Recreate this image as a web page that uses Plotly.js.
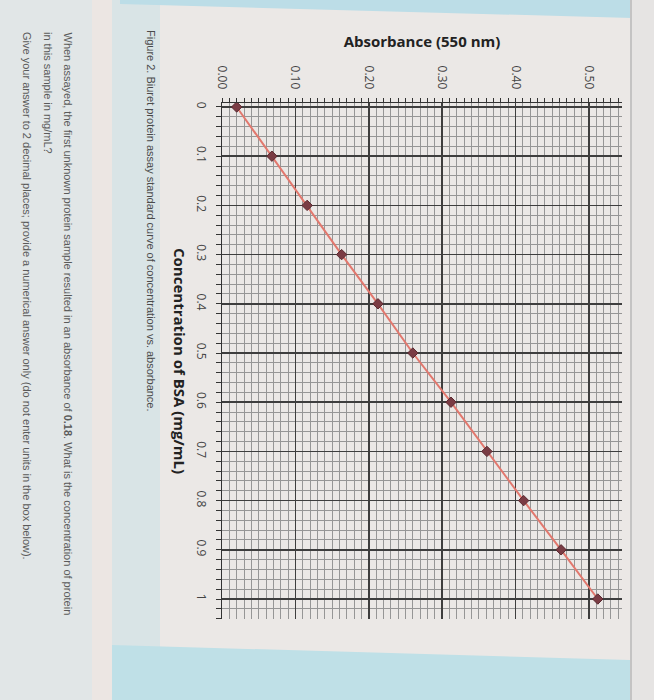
<!DOCTYPE html>
<html>
<head>
<meta charset="utf-8">
<script src="https://cdn.plot.ly/plotly-3.0.1.min.js"></script>
<style>
  html, body { margin: 0; padding: 0; background: #ebe8e6; }
  #chart { width: 654px; height: 700px; }
</style>
</head>
<body>
<div id="chart"></div>
<script>
// ---- data ----
const concentration = [0, 0.1, 0.2, 0.3, 0.4, 0.5, 0.6, 0.7, 0.8, 0.9, 1.0];          // mg/mL
const absorbance    = [0.020, 0.068, 0.116, 0.163, 0.2125, 0.260, 0.312, 0.361, 0.411, 0.462, 0.512];
const absTitle  = 'Absorbance (550 nm)';
const concTitle = 'Concentration of BSA (mg/mL)';
const caption   = 'Figure 2. Biuret protein assay standard curve of concentration vs. absorbance.';
const question  = [
  'When assayed, the first unknown protein sample resulted in an absorbance of <b>0.18</b>. What is the concentration of protein',
  'in this sample in mg/mL?',
  'Give your answer to 2 decimal places; provide a numerical answer only (do not enter units in the box below).'
];

// ---- geometry ----
const W = 654, H = 700;
const M = {l: 222, r: 32, t: 103, b: 81};
const pw = W - M.l - M.r, ph = H - M.t - M.b;
const px = v => (v - M.l) / pw;          // pixel x -> paper x
const py = v => 1 - (v - M.t) / ph;      // pixel y -> paper y

const chartFont = '"Open Sans", "Noto Sans", sans-serif';
const textFont  = '"Liberation Sans", Arial, sans-serif';

// minor grid positions (graph-paper style), skipping the major 0.1 lines
function minorVals(step, max, every) {
  const out = [];
  for (let i = 0; i * step <= max + 1e-9; i++) {
    if (i % every !== 0) out.push(+(i * step).toFixed(3));
  }
  return out;
}

function rect(x0, y0, x1, y1, color) {
  return {type: 'rect', xref: 'paper', yref: 'paper', layer: 'below',
          x0: px(x0), x1: px(x1), y0: py(y0), y1: py(y1),
          fillcolor: color, line: {width: 0}};
}
function poly(pts, color) {
  const d = 'M ' + pts.map(p => px(p[0]) + ',' + py(p[1])).join(' L ') + ' Z';
  return {type: 'path', xref: 'paper', yref: 'paper', layer: 'below', path: d,
          fillcolor: color, line: {width: 0}};
}

const shapes = [
  rect(0, 0, 92, 700, '#e1e6e7'),
  rect(92, 0, 112, 700, '#ece6e3'),
  rect(112, 0, 160, 700, '#d9e4e6'),
  poly([[120, 0], [654, 0], [632, 18], [120, 4]], '#bcdde7'),
  poly([[112, 645], [630, 660], [630, 700], [112, 700]], '#bfe0e7'),
  rect(630, 0, 654, 700, '#e6e4e3'),
  {type: 'line', xref: 'paper', yref: 'paper', layer: 'below',
   x0: px(631), x1: px(631), y0: py(0), y1: py(700), line: {color: '#b9b9b9', width: 1.5}}
];

const annotations = [
  {text: concTitle, xref: 'paper', yref: 'paper', x: px(180), y: py(361),
   xanchor: 'center', yanchor: 'middle', textangle: 90, showarrow: false,
   font: {family: chartFont, size: 15, color: '#222', weight: 'bold'}},
  {text: caption, xref: 'paper', yref: 'paper', x: px(151), y: py(28),
   xanchor: 'center', yanchor: 'top', textangle: 90, showarrow: false,
   font: {family: textFont, size: 11, color: '#4a4a4a'}},
  {text: question[0], xref: 'paper', yref: 'paper', x: px(68), y: py(30),
   xanchor: 'center', yanchor: 'top', textangle: 90, showarrow: false,
   font: {family: textFont, size: 11, color: '#5a5a5a'}},
  {text: question[1], xref: 'paper', yref: 'paper', x: px(48), y: py(30),
   xanchor: 'center', yanchor: 'top', textangle: 90, showarrow: false,
   font: {family: textFont, size: 11, color: '#5a5a5a'}},
  {text: question[2], xref: 'paper', yref: 'paper', x: px(27), y: py(30),
   xanchor: 'center', yanchor: 'top', textangle: 90, showarrow: false,
   font: {family: textFont, size: 11, color: '#5a5a5a'}}
];

const trace = {
  x: absorbance, y: concentration, type: 'scatter', mode: 'lines+markers',
  line: {color: '#e2786e', width: 2},
  marker: {symbol: 'diamond', size: 8, color: '#7a3c44', line: {color: '#5a2a30', width: 1}},
  hoverinfo: 'skip', showlegend: false
};

const layout = {
  width: W, height: H,
  margin: M,
  paper_bgcolor: '#ebe8e6',
  plot_bgcolor: 'rgba(0,0,0,0)',
  font: {family: chartFont, color: '#444'},
  xaxis: {
    side: 'top', range: [0, 0.545], dtick: 0.1, tick0: 0, tickformat: '.2f',
    tickangle: 90, tickfont: {size: 12, color: '#444'},
    ticks: 'outside', ticklen: 4, tickcolor: '#333', ticklabelstandoff: 4,
    showgrid: true, gridcolor: '#3e3e3e', gridwidth: 1.5,
    minor: {tickmode: 'array', tickvals: minorVals(0.01, 0.545, 10),
            showgrid: true, gridcolor: '#969696', gridwidth: 1,
            ticks: 'outside', ticklen: 4, tickcolor: '#333'},
    showline: true, linecolor: '#333', linewidth: 1.5, zeroline: false,
    title: {text: absTitle, standoff: 14, font: {size: 15, color: '#222', weight: 'bold'}}
  },
  yaxis: {
    range: [1.0406, -0.0081], dtick: 0.1, tick0: 0,
    tickangle: 90, tickfont: {size: 12, color: '#444'},
    ticks: 'outside', ticklen: 5, tickcolor: '#333', ticklabelstandoff: 4,
    showgrid: true, gridcolor: '#3e3e3e', gridwidth: 1.5,
    minor: {tickmode: 'array', tickvals: minorVals(0.02, 1.0406, 5),
            showgrid: true, gridcolor: '#969696', gridwidth: 1,
            ticks: 'outside', ticklen: 5, tickcolor: '#333'},
    showline: true, linecolor: '#333', linewidth: 1.5, zeroline: false
  },
  shapes: shapes,
  annotations: annotations
};

Plotly.newPlot('chart', [trace], layout, {displayModeBar: false, staticPlot: true});
</script>
</body>
</html>
